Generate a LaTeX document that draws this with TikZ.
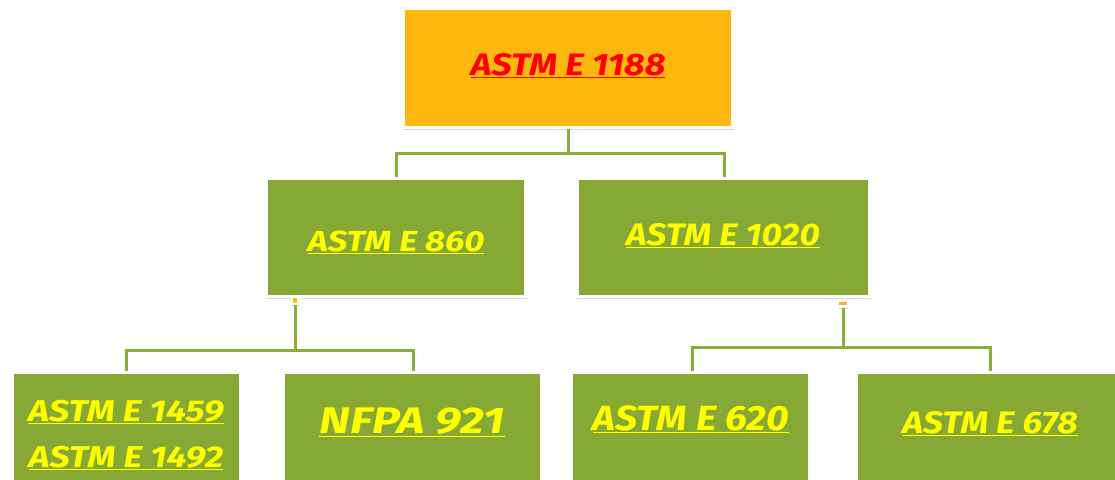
\documentclass[tikz,border=0pt]{standalone}
\usepackage{fontspec}
\setmainfont{Fira Sans}
\usepackage{graphicx}
\usetikzlibrary{shadows}
\definecolor{orng}{HTML}{FDB70F}
\definecolor{grn}{HTML}{86A935}
\definecolor{lnk}{HTML}{8AAD3C}
\definecolor{ylw}{HTML}{FFFF00}
\definecolor{rd}{HTML}{FF0000}
\newcommand{\wtxt}[2]{\scalebox{#1}[1]{\underline{#2}}}
\tikzset{
  box/.style={draw=white, line width=3pt, fill=grn, inner sep=0pt,
    drop shadow={opacity=0.3, shadow xshift=0.5pt, shadow yshift=-2pt, shadow scale=1.008}},
  topbox/.style={box, fill=orng},
  lbl/.style={font=\bfseries\itshape\fontsize{#1}{#1}\selectfont, text=ylw, inner sep=0pt},
  link/.style={draw=lnk, line width=3pt},
  dot/.style={fill=white, draw=none, minimum width=9pt, minimum height=9pt, inner sep=0pt,
    drop shadow={opacity=0.25, shadow xshift=0.5pt, shadow yshift=-1pt}}
}
\begin{document}
\begin{tikzpicture}[x=1pt,y=-1pt]
\clip (0,0) rectangle (1115,479);
\fill[white] (0,0) rectangle (1115,479);
% connectors
\coordinate (t) at (568,128);
\coordinate (tj) at (568,153);
\coordinate (tl) at (396,153);
\coordinate (tr) at (724,153);
\coordinate (l0) at (295,303);
\coordinate (lj) at (295,350);
\coordinate (ll) at (126,350);
\coordinate (lr) at (413,350);
\coordinate (r0) at (843,306);
\coordinate (rj) at (843,347);
\coordinate (rl) at (692,347);
\coordinate (rr) at (990,347);
\draw[link] (t) -- (tj);
\draw[link] (tl |- 0,182) -- (tl) -- (tr) -- (tr |- 0,182);
\draw[link] (l0) -- (lj);
\draw[link] (ll |- 0,375) -- (ll) -- (lr) -- (lr |- 0,375);
\draw[link] (r0) -- (rj);
\draw[link] (rl |- 0,375) -- (rl) -- (rr) -- (rr |- 0,375);
% boxes
\node[topbox, minimum width=329pt, minimum height=119pt] (top) at (568,68) {};
\node[lbl=31, text=rd] (topt) at (568,66) {\wtxt{1.16}{ASTM E 1188}};
\node[box, minimum width=259pt, minimum height=118pt] (m1) at (396,237.5) {};
\node[lbl=29] (m1t) at (396,242) {\wtxt{1.2}{ASTM E 860}};
\node[box, minimum width=292pt, minimum height=118pt] (m2) at (723.5,237.5) {};
\node[lbl=31] (m2t) at (723,236) {\wtxt{1.14}{ASTM E 1020}};
\node[box, minimum width=228pt, minimum height=128pt] (b1) at (126.5,436) {};
\node[lbl=30] (b1a) at (126,412) {\wtxt{1.2}{ASTM E 1459}};
\node[lbl=30] (b1b) at (126,458) {\wtxt{1.2}{ASTM E 1492}};
\node[box, minimum width=258pt, minimum height=128pt] (b2) at (412.5,436) {};
\node[lbl=37] (b2t) at (412,422) {\wtxt{1.27}{NFPA 921}};
\node[box, minimum width=238pt, minimum height=128pt] (b3) at (690.5,436) {};
\node[lbl=35] (b3t) at (691,419) {\wtxt{1.12}{ASTM E 620}};
\node[box, minimum width=270pt, minimum height=128pt] (b4) at (991,436) {};
\node[lbl=31] (b4t) at (990,424) {\wtxt{1.15}{ASTM E 678}};
% small markers
\node[dot] (d1) at (295,300) {};
\fill[orng] (293,298) rectangle (297,303);
\node[dot] (d2) at (843,303) {};
\fill[orng] (839,302) rectangle (847,305);
\end{tikzpicture}
\end{document}
